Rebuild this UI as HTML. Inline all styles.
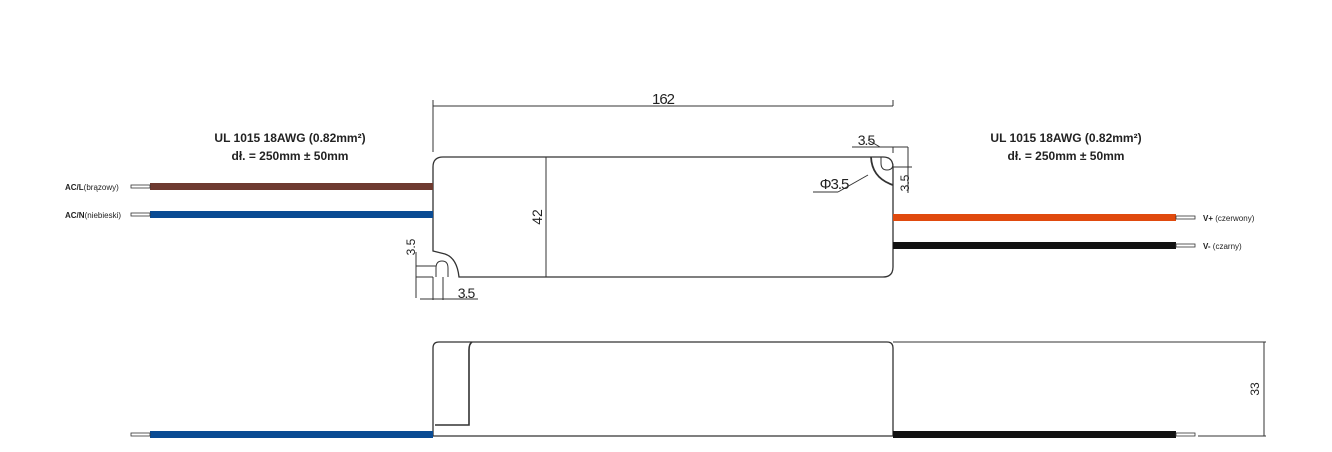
<!DOCTYPE html>
<html><head><meta charset="utf-8"><style>
html,body{margin:0;padding:0;background:#fff;}
svg{display:block;}
text{font-family:"Liberation Sans",sans-serif;fill:#222;}
</style></head><body>
<svg width="1332" height="452" viewBox="0 0 1332 452" xmlns="http://www.w3.org/2000/svg">
<g fill="none" stroke="#333" stroke-width="1">
<!-- top body -->
<path d="M443 157 H883 Q893 157 893 167 V267 Q893 277 883 277 H459 Q457 258 445 254 Q437 252 433 251 V167 Q433 157 443 157 Z" stroke-width="1.3"/>
<!-- left notch slot -->
<path d="M436 277 V268 Q436 261 442 261 Q448 261 448 268 V277" />
<!-- right top notch -->
<path d="M871 157 Q872 178 893 185" stroke-width="1.8"/>
<path d="M881 157 V163 Q881 170 887 170 Q893 170 893 164" />
<!-- 162 dim -->
<line x1="433" y1="106" x2="893" y2="106"/>
<line x1="433" y1="100" x2="433" y2="152"/>
<line x1="893" y1="100" x2="893" y2="106"/>
<!-- 42 dim -->
<line x1="546" y1="157" x2="546" y2="277"/>
<!-- 3.5 dims right -->
<line x1="852" y1="147" x2="908" y2="147"/>
<line x1="868" y1="140" x2="880" y2="147"/>
<line x1="893" y1="147" x2="893" y2="153"/>
<line x1="908" y1="147" x2="908" y2="193"/>
<line x1="893" y1="167" x2="912" y2="167"/>
<line x1="813" y1="192" x2="838" y2="192"/>
<line x1="838" y1="192" x2="868" y2="175"/>
<!-- 3.5 dims left -->
<line x1="416" y1="252" x2="416" y2="298"/>
<line x1="416" y1="266" x2="436" y2="266"/>
<line x1="416" y1="277" x2="433" y2="277"/>
<line x1="433" y1="277" x2="433" y2="300"/>
<line x1="443" y1="277" x2="443" y2="300"/>
<line x1="420" y1="299" x2="478" y2="299"/>
<!-- bottom body -->
<path d="M433 436 V348 Q433 342 439 342 H887 Q893 342 893 348 V436" stroke-width="1.3"/>
<line x1="420" y1="436" x2="893" y2="436" stroke-width="1.3"/>
<line x1="893" y1="342" x2="1266" y2="342"/>
<line x1="893" y1="436" x2="1176" y2="436"/>
<line x1="1198" y1="436" x2="1266" y2="436"/>
<line x1="1264" y1="342" x2="1264" y2="436"/>
<path d="M472 342 Q469 344 469 350 V425 H435" stroke-width="1.6"/>
</g>
<!-- wires -->
<g>
<rect x="150" y="183" width="283" height="7" fill="#6e3a30"/>
<rect x="150" y="211" width="283" height="7" fill="#0a4b93"/>
<rect x="893" y="214" width="283" height="7" fill="#e04a0e"/>
<rect x="893" y="242" width="283" height="7" fill="#111"/>
<rect x="150" y="431" width="283" height="7" fill="#0a4b93"/>
<rect x="893" y="431" width="283" height="7" fill="#111"/>
</g>
<g fill="#fff" stroke="#333" stroke-width="0.8">
<rect x="131" y="185" width="19" height="3"/>
<rect x="131" y="213" width="19" height="3"/>
<rect x="1176" y="216" width="19" height="3"/>
<rect x="1176" y="244" width="19" height="3"/>
<rect x="131" y="433" width="19" height="3"/>
<rect x="1176" y="433" width="19" height="3"/>
</g>
<!-- text -->
<text x="663" y="104" font-size="15" text-anchor="middle" letter-spacing="-1">162</text>
<text transform="translate(542 217) rotate(-90)" font-size="14" text-anchor="middle">42</text>
<text x="866" y="145" font-size="14" text-anchor="middle" letter-spacing="-1">3.5</text>
<text x="834" y="189" font-size="15" text-anchor="middle" letter-spacing="-1">Φ3.5</text>
<text transform="translate(909 183) rotate(-90)" font-size="12" text-anchor="middle">3.5</text>
<text transform="translate(415 247) rotate(-90)" font-size="12" text-anchor="middle">3.5</text>
<text x="466" y="298" font-size="14" text-anchor="middle" letter-spacing="-1">3.5</text>
<text transform="translate(1259 389) rotate(-90)" font-size="12" text-anchor="middle">33</text>
<g font-weight="bold" font-size="12" text-anchor="middle">
<text x="290" y="142">UL 1015 18AWG (0.82mm²)</text>
<text x="290" y="160">dł. = 250mm ± 50mm</text>
<text x="1066" y="142">UL 1015 18AWG (0.82mm²)</text>
<text x="1066" y="160">dł. = 250mm ± 50mm</text>
</g>
<g font-size="8">
<text x="65" y="190"><tspan font-weight="bold">AC/L</tspan>(brązowy)</text>
<text x="65" y="218"><tspan font-weight="bold">AC/N</tspan>(niebieski)</text>
<text x="1203" y="221"><tspan font-weight="bold">V+</tspan> (czerwony)</text>
<text x="1203" y="249"><tspan font-weight="bold">V-</tspan> (czarny)</text>
</g>
</svg>
</body></html>
